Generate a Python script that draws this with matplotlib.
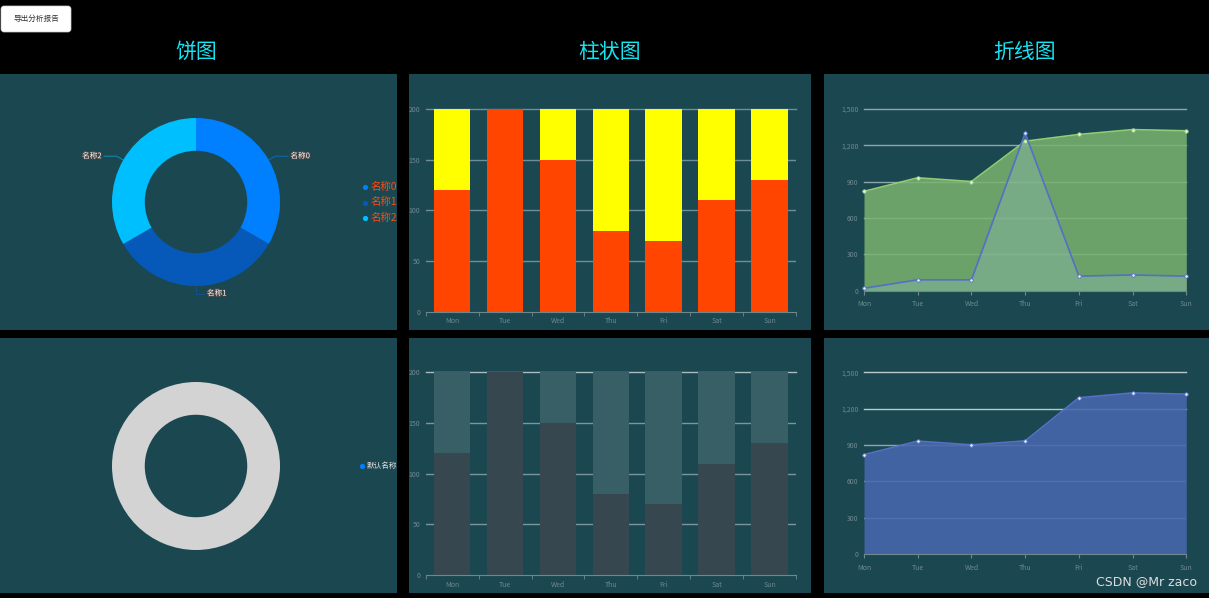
import matplotlib.pyplot as plt
import matplotlib.patheffects as pe
from matplotlib.patches import Rectangle, FancyBboxPatch
from matplotlib.ticker import FuncFormatter
import numpy as np

plt.rcParams['font.family'] = ['Noto Sans CJK SC', 'DejaVu Sans']

W, H = 1209, 598

days = ['Mon', 'Tue', 'Wed', 'Thu', 'Fri', 'Sat', 'Sun']
pie_names = ['名称0', '名称1', '名称2']
pie_values = [1, 1, 1]
pie_colors = ['#0080FF', '#0659B8', '#00BFFF']
bar_bottom = [120, 200, 150, 80, 70, 110, 130]
bar_top = [80, 0, 50, 120, 130, 90, 70]
line_green = [820, 932, 901, 1234, 1290, 1330, 1320]
line_blue = [20, 90, 90, 1300, 120, 130, 120]
line_area = [820, 932, 901, 934, 1290, 1330, 1320]
titles = ['饼图', '柱状图', '折线图']

BG = '#1B4850'
TICK = '#6F8890'


def px(x0, y0, x1, y1):
    return [x0 / W, 1 - y1 / H, (x1 - x0) / W, (y1 - y0) / H]


fig = plt.figure(figsize=(W / 100, H / 100), dpi=100, facecolor='black')

# background layer in pixel coordinates
bg = fig.add_axes([0, 0, 1, 1])
bg.set_xlim(0, W)
bg.set_ylim(H, 0)
bg.axis('off')
for (x0, x1) in [(0, 397), (409, 811), (824, 1209)]:
    for (y0, y1) in [(74, 330), (338, 593)]:
        bg.add_patch(Rectangle((x0, y0), x1 - x0, y1 - y0, facecolor=BG, edgecolor='none'))

for t, xc in zip(titles, [196, 610, 1025]):
    bg.text(xc, 52, t, color='#17E3F2', fontsize=15, ha='center', va='center')
bg.add_patch(FancyBboxPatch((1, 6), 70, 26, boxstyle='round,pad=0,rounding_size=3',
                            facecolor='white', edgecolor='#cccccc', lw=0.5))
bg.text(36, 19, '导出分析报告', fontsize=5.5, color='#333333', ha='center', va='center')

# legends of the donuts
for i, n in enumerate(pie_names):
    yy = 187 + i * 15.5
    bg.scatter([365], [yy], s=14, color=pie_colors[i], lw=0)
    bg.text(371, yy, n, fontsize=7.5, color='#FF4A12', va='center', ha='left')
bg.scatter([362], [466], s=14, color='#0080FF', lw=0)
bg.text(367, 466, '默认名称', fontsize=5.5, color='#DDDDDD', va='center', ha='left')
bg.text(1147, 582, 'CSDN @Mr zaco', fontsize=9, color='#DDDDDD',
        ha='center', va='center', family='DejaVu Sans')


def donut(cy, values, colors, labels=None):
    ax = fig.add_axes(px(112, cy - 84, 280, cy + 84))
    ax.axis('off')
    ax.pie(values, colors=colors, startangle=90, counterclock=False, radius=1,
           wedgeprops=dict(width=0.39, edgecolor='none'))
    ax.set_xlim(-1, 1)
    ax.set_ylim(-1, 1)
    if labels:
        total = sum(values)
        start = 90
        for lab, v, c in zip(labels, values, colors):
            mid = np.deg2rad(start - v / total * 360 / 2)
            start -= v / total * 360
            x1, y1 = np.cos(mid), np.sin(mid)
            x2, y2 = 1.09 * x1, 1.09 * y1
            if abs(x1) < 0.05:
                x2, y2 = 0, -1.09
                x3 = 0.1
            else:
                x3 = x2 + np.sign(x1) * 0.15
            ax.plot([x1, x2, x3], [y1, y2, y2], color=c, lw=0.7, alpha=0.6, clip_on=False)
            ax.text(x3 + np.sign(x3) * 0.03, y2, lab, fontsize=5.5, color='white',
                    ha='left' if x3 > 0 else 'right', va='center',
                    path_effects=[pe.withStroke(linewidth=1.5, foreground='#444444')])
    return ax


donut(202, pie_values, pie_colors, pie_names)
donut(466, [1], ['#D3D3D3'])


def style_axis(ax, xlim, yticks, fmt=None):
    ax.set_facecolor('none')
    for s in ['top', 'right', 'left']:
        ax.spines[s].set_visible(False)
    ax.spines['bottom'].set_color(TICK)
    ax.set_xlim(*xlim)
    ax.set_yticks(yticks)
    ax.set_ylim(yticks[0], yticks[-1])
    if fmt:
        ax.yaxis.set_major_formatter(FuncFormatter(fmt))
    ax.tick_params(axis='y', length=0, labelsize=5, labelcolor=TICK, pad=4)
    ax.tick_params(axis='x', length=0, labelsize=5, labelcolor=TICK, pad=4)
    ax.set_axisbelow(True)


def bars(y0, y1, c_bottom, c_top, grid_color, top_grid):
    ax = fig.add_axes(px(425.7, y0, 796, y1))
    x = np.arange(len(days))
    ax.bar(x, bar_bottom, width=0.69, color=c_bottom, zorder=2)
    ax.bar(x, bar_top, width=0.69, bottom=bar_bottom, color=c_top, zorder=2)
    style_axis(ax, (-0.5, 6.5), [0, 50, 100, 150, 200])
    for v in [50, 100, 150]:
        ax.axhline(v, color=grid_color, lw=1, zorder=0)
    ax.axhline(200, color=top_grid, lw=1, zorder=0, clip_on=False)
    ax.set_xticks(x)
    ax.set_xticklabels(days)
    ax.set_xticks(np.arange(-0.5, 7, 1), minor=True)
    ax.tick_params(axis='x', which='minor', length=3, color=TICK, direction='out')
    return ax


bars(109, 311.7, '#FF4500', '#FFFF00', '#6E8E9A', '#6E8E9A')
bars(372.3, 575, '#37474F', '#385E66', '#7A959C', '#A8BCC0')

thousands = lambda v, p: f'{int(v):,}'
x = np.arange(len(days))

# top line chart
ax = fig.add_axes(px(864, 109, 1186.3, 290.7))
style_axis(ax, (0, 6), [0, 300, 600, 900, 1200, 1500], thousands)
for v in [300, 600, 900, 1200, 1500]:
    ax.axhline(v, color='#8FA6AD', lw=1, zorder=0, clip_on=False)
ax.fill_between(x, line_green, color='#79B36F', alpha=0.85, lw=0, zorder=1)
ax.fill_between(x, line_blue, color='#93C1C4', alpha=0.3, lw=0, zorder=2)
ax.plot(x, line_green, color='#91CC75', lw=1.2, marker='o', ms=2.5, mfc='#E8F5E0',
        mec='#91CC75', mew=0.6, zorder=3, clip_on=False)
ax.plot(x, line_blue, color='#5470C6', lw=1.2, marker='o', ms=2.5, mfc='#E8ECF8',
        mec='#5470C6', mew=0.6, zorder=4, clip_on=False)
ax.set_xticks(x)
ax.set_xticklabels(days)
ax.tick_params(axis='x', which='major', length=3, color=TICK)

# bottom line chart
ax = fig.add_axes(px(864, 372.3, 1186.3, 554))
style_axis(ax, (0, 6), [0, 300, 600, 900, 1200, 1500], thousands)
for v in [300, 600, 900]:
    ax.axhline(v, color='#8FA6AD', lw=1, zorder=0)
for v in [1200, 1500]:
    ax.axhline(v, color='#B8C8CC', lw=1, zorder=0, clip_on=False)
ax.fill_between(x, line_area, color='#4867AD', alpha=0.88, lw=0, zorder=1)
ax.plot(x, line_area, color='#5470C6', lw=1.2, marker='o', ms=2.5, mfc='#E8ECF8',
        mec='#5470C6', mew=0.6, zorder=3, clip_on=False)
ax.set_xticks(x)
ax.set_xticklabels(days)
ax.tick_params(axis='x', which='major', length=3, color=TICK)

fig.savefig('out.png', dpi=100, facecolor='black')
